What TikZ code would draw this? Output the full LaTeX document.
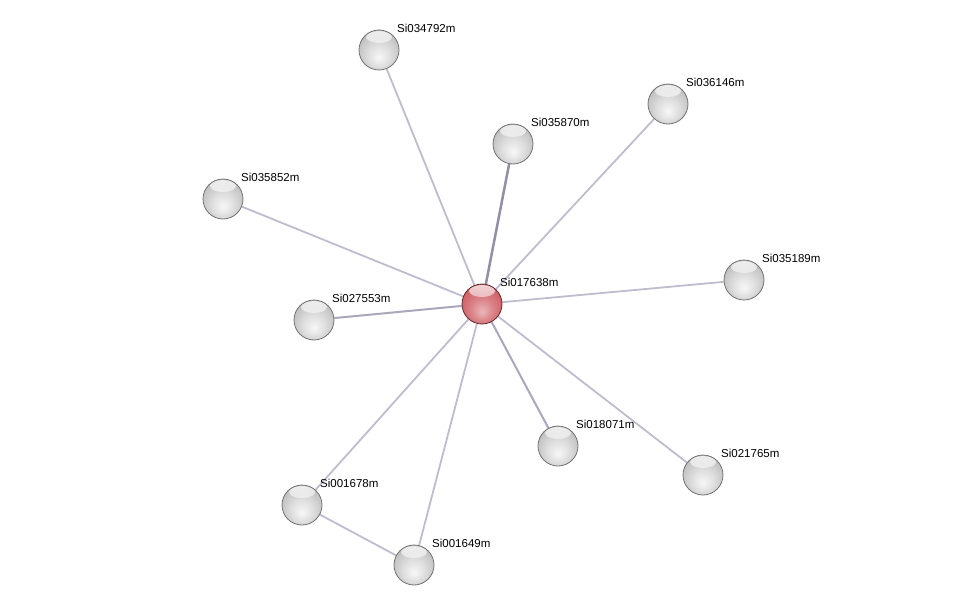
\documentclass[tikz,border=0pt]{standalone}
\usepackage{fontspec}
\setmainfont{Liberation Sans}
\usepackage{tikz}
\usetikzlibrary{positioning, backgrounds, fadings}

\definecolor{edgegray}{RGB}{192,188,206}
\definecolor{edgemid}{RGB}{170,166,188}
\definecolor{edgedark}{RGB}{146,143,166}
\definecolor{ballred}{RGB}{208,96,102}
\definecolor{ballrim}{RGB}{115,115,115}

\pgfdeclareradialshading{graysphere}{\pgfpoint{0bp}{-10bp}}{%
  color(0bp)=(white!97!black); color(14bp)=(white!87!black);
  color(27bp)=(white!76!black); color(36bp)=(white!55!black); color(50bp)=(white!55!black)}
\pgfdeclareradialshading{redsphere}{\pgfpoint{0bp}{-10bp}}{%
  color(0bp)=(ballred!45!white); color(14bp)=(ballred!78!white);
  color(27bp)=(ballred); color(36bp)=(ballred!65!black); color(50bp)=(ballred!65!black)}

\tikzset{
  gloss/.style={path picture={\fill[white, fill opacity=0.75, path fading=south]
      ([yshift=-7pt]path picture bounding box.north) ellipse (13pt and 6pt);}},
  prot/.style={circle, minimum size=40pt, inner sep=0pt, draw=ballrim, line width=0.8pt,
    shading=graysphere, gloss},
  query/.style={prot, draw=ballred!45!black, shading=redsphere},
  lbl/.style={anchor=west, inner sep=0pt, font=\fontsize{11.5}{13}\selectfont},
  link/.style={draw=edgegray, line width=1.8pt},
  midlink/.style={draw=edgemid, line width=2pt},
  strong/.style={draw=edgedark, line width=2.5pt}
}

\begin{document}
\begin{tikzpicture}[x=1pt, y=-1pt]
        \useasboundingbox (0,0) rectangle (975,610);

        \node[query] (n17638) at (482,304) {};
        \node[prot] (n34792) at (379,50)  {};
        \node[prot] (n36146) at (668,104) {};
        \node[prot] (n35870) at (513,144) {};
        \node[prot] (n35852) at (223,199) {};
        \node[prot] (n35189) at (744,280) {};
        \node[prot] (n27553) at (314,320) {};
        \node[prot] (n18071) at (558,446) {};
        \node[prot] (n21765) at (703,475) {};
        \node[prot] (n01678) at (302,505) {};
        \node[prot] (n01649) at (414,565) {};

        % names, up and right of each ball
        \foreach \n/\t in {n17638/Si017638m, n34792/Si034792m, n36146/Si036146m,
            n35870/Si035870m, n35852/Si035852m, n35189/Si035189m, n27553/Si027553m,
            n18071/Si018071m, n21765/Si021765m, n01678/Si001678m, n01649/Si001649m}
          \node[lbl] (t\n) at ([shift={(18pt,21.5pt)}]\n.center) {\t};

        \begin{scope}[on background layer]
        \path
        (n17638) edge[link] (n34792)
                 edge[link] (n36146)
                 edge[strong] (n35870)
                 edge[link] (n35852)
                 edge[link] (n35189)
                 edge[midlink] (n27553)
                 edge[midlink] (n18071)
                 edge[link] (n21765)
                 edge[link] (n01678)
                 edge[link] (n01649)
        (n01678) edge[link] (n01649);
        \end{scope}

    \end{tikzpicture}
\end{document}
